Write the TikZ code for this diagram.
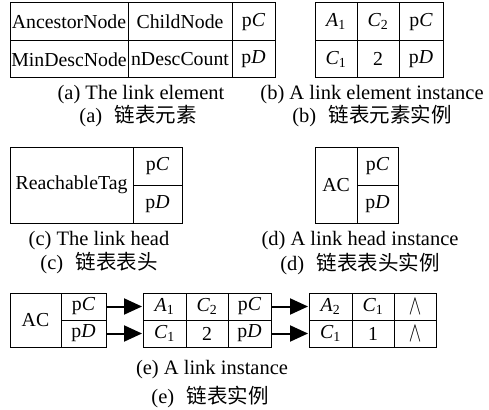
\documentclass[tikz,border=0pt]{standalone}
\usepackage{fontspec}
\setmainfont{Liberation Serif}
\newfontfamily\cjk{Noto Sans CJK SC}
\usetikzlibrary{arrows.meta}
\tikzset{
  cell/.style={draw, line width=1pt, inner sep=0pt, anchor=center},
  captext/.style={inner sep=0pt, anchor=center, font=\fontsize{20.5}{24}\selectfont},
  link/.style={line width=2pt, -{Triangle[length=18pt,width=16pt]}, shorten >=0.5pt},
}
\newcommand{\pc}{p\textit{C}}
\newcommand{\pd}{p\textit{D}}
\newcommand{\sub}[2]{\textit{#1}\textsubscript{#2}}
\newcommand{\nil}{\scalebox{0.9}[1.35]{$\wedge$}}
\newcommand{\cn}[2]{(#1)\hspace{0.6em}{\cjk #2}}
\begin{document}
\begin{tikzpicture}[x=1pt,y=-1pt,font=\fontsize{19.8}{23}\selectfont]
\useasboundingbox (0,0) rectangle (489,409);
% (a)
\node[cell,minimum width=118pt,minimum height=37.5pt] (a11) at (69,21.75) {AncestorNode};
\node[cell,minimum width=104pt,minimum height=37.5pt] (a12) at (180,21.75) {ChildNode};
\node[cell,minimum width=43pt,minimum height=37.5pt] (a13) at (253.5,21.75) {\pc};
\node[cell,minimum width=118pt,minimum height=37.5pt] (a21) at (69,59.25) {MinDescNode};
\node[cell,minimum width=104pt,minimum height=37.5pt] (a22) at (180,59.25) {nDescCount};
\node[cell,minimum width=43pt,minimum height=37.5pt] (a23) at (253.5,59.25) {\pd};
\node[captext] (capa) at (141,95) {(a) The link element};
\node[captext] (capacn) at (138,116) {\cn{a}{链表元素}};
% (b)
\node[cell,minimum width=42pt,minimum height=37.5pt] (b11) at (336,21.75) {\sub{A}{1}};
\node[cell,minimum width=42pt,minimum height=37.5pt] (b12) at (378,21.75) {\sub{C}{2}};
\node[cell,minimum width=44pt,minimum height=37.5pt] (b13) at (421,21.75) {\pc};
\node[cell,minimum width=42pt,minimum height=37.5pt] (b21) at (336,59.25) {\sub{C}{1}};
\node[cell,minimum width=42pt,minimum height=37.5pt] (b22) at (378,59.25) {2};
\node[cell,minimum width=44pt,minimum height=37.5pt] (b23) at (421,59.25) {\pd};
\node[captext] (capb) at (372,95) {(b) A link element instance};
\node[captext] (capbcn) at (372,116) {\cn{b}{链表元素实例}};
% (c)
\node[cell,minimum width=123pt,minimum height=76pt] (c1) at (71.5,185) {ReachableTag};
\node[cell,minimum width=49pt,minimum height=38pt] (c2) at (157.5,166) {\pc};
\node[cell,minimum width=49pt,minimum height=38pt] (c3) at (157.5,204) {\pd};
\node[captext] (capc) at (99,241) {(c) The link head};
\node[captext] (capccn) at (99,263) {\cn{c}{链表表头}};
% (d)
\node[cell,minimum width=42pt,minimum height=76pt] (d1) at (336,185) {AC};
\node[cell,minimum width=41pt,minimum height=38pt] (d2) at (377.5,166) {\pc};
\node[cell,minimum width=41pt,minimum height=38pt] (d3) at (377.5,204) {\pd};
\node[captext] (capd) at (360,241) {(d) A link head instance};
\node[captext] (capdcn) at (360,264) {\cn{d}{链表表头实例}};
% (e)
\node[cell,minimum width=51pt,minimum height=54pt] (eh) at (35.5,320) {AC};
\node[cell,minimum width=45pt,minimum height=27pt] (ehc) at (83.5,306.5) {\pc};
\node[cell,minimum width=45pt,minimum height=27pt] (ehd) at (83.5,333.5) {\pd};
\node[cell,minimum width=43pt,minimum height=27pt] (n1a) at (164.5,306.5) {\sub{A}{1}};
\node[cell,minimum width=42pt,minimum height=27pt] (n1b) at (207,306.5) {\sub{C}{2}};
\node[cell,minimum width=43pt,minimum height=27pt] (n1c) at (249.5,306.5) {\pc};
\node[cell,minimum width=43pt,minimum height=27pt] (n1d) at (164.5,333.5) {\sub{C}{1}};
\node[cell,minimum width=42pt,minimum height=27pt] (n1e) at (207,333.5) {2};
\node[cell,minimum width=43pt,minimum height=27pt] (n1f) at (249.5,333.5) {\pd};
\node[cell,minimum width=43pt,minimum height=27pt] (n2a) at (330.5,306.5) {\sub{A}{2}};
\node[cell,minimum width=42pt,minimum height=27pt] (n2b) at (373,306.5) {\sub{C}{1}};
\node[cell,minimum width=42pt,minimum height=27pt] (n2c) at (415,306.5) {\nil};
\node[cell,minimum width=43pt,minimum height=27pt] (n2d) at (330.5,333.5) {\sub{C}{1}};
\node[cell,minimum width=42pt,minimum height=27pt] (n2e) at (373,333.5) {1};
\node[cell,minimum width=42pt,minimum height=27pt] (n2f) at (415,333.5) {\nil};
\draw[link] (ehc.east) -- (n1a.west);
\draw[link] (ehd.east) -- (n1d.west);
\draw[link] (n1c.east) -- (n2a.west);
\draw[link] (n1f.east) -- (n2d.west);
\node[captext] (cape) at (212,370) {(e) A link instance};
\node[captext] (capecn) at (210,397) {\cn{e}{链表实例}};
\end{tikzpicture}
\end{document}
